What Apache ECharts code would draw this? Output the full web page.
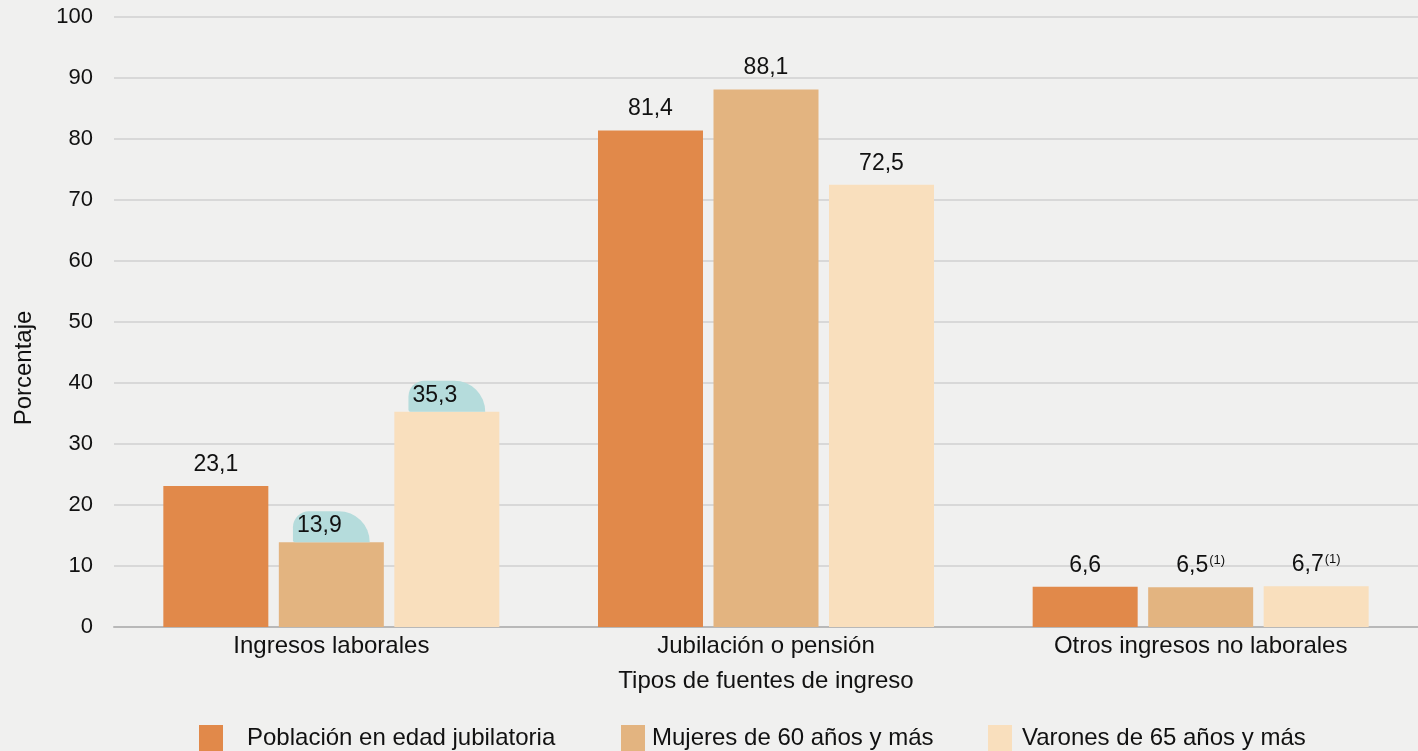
<!DOCTYPE html>
<html>
<head>
<meta charset="utf-8">
<script src="https://cdn.jsdelivr.net/npm/echarts@6/dist/echarts.min.js"></script>
<style>
  html, body { margin: 0; padding: 0; background: #f0f0ef; }
  #chart { width: 1418px; height: 751px; }
</style>
</head>
<body>
<div id="chart"></div>
<script>
// datos
var categorias = ['Ingresos laborales', 'Jubilación o pensión', 'Otros ingresos no laborales'];
var series = ['Población en edad jubilatoria', 'Mujeres de 60 años y más', 'Varones de 65 años y más'];
var poblacion = [23.1, 81.4, 6.6];
var mujeres = [13.9, 88.1, 6.5];
var varones = [35.3, 72.5, 6.7];
// notas (1) por serie y categoría
var notasMujeres = [false, false, true];
var notasVarones = [false, false, true];
// etiquetas con trazo turquesa detrás
var resaltMujeres = [true, false, false];
var resaltVarones = [true, false, false];

var colores = ['#e1894a', '#e3b480', '#f9dfbd'];
var fuente = 'Liberation Sans, Arial, sans-serif';

(function () {
  var myChart = echarts.init(document.getElementById('chart'));

  function fmt(v) {
    return String(v).replace('.', ',');
  }

  function datos(valores, notas, resalt) {
    return valores.map(function (v, i) {
      var item = { value: v };
      if (notas && notas[i]) {
        item.label = { formatter: function (p) { return '{n|' + fmt(p.value) + '}{s|(1)}'; } };
      } else if (resalt && resalt[i]) {
        item.label = { distance: 0, formatter: function (p) { return '{h|' + fmt(p.value) + '}'; } };
      }
      return item;
    });
  }

  var labelBase = {
    show: true,
    position: 'top',
    distance: 10,
    color: '#111',
    fontSize: 23,
    fontFamily: fuente,
    formatter: function (p) { return fmt(p.value); },
    rich: {
      n: { fontSize: 23, color: '#111', fontFamily: fuente },
      s: { fontSize: 13, color: '#111', verticalAlign: 'top', padding: [0, 0, 10, 1], fontFamily: fuente },
      h: {
        fontSize: 23, color: '#111', fontFamily: fuente,
        backgroundColor: '#b5dcdc', borderRadius: [16, 34, 0, 2], padding: [3, 28, 5, 4]
      }
    }
  };

  var legendText = { color: '#111', fontSize: 24, fontFamily: fuente };

  var option = {
    backgroundColor: '#f0f0ef',
    color: colores,
    textStyle: { fontFamily: fuente },
    legend: [
      { data: [series[0]], left: 199, top: 725, padding: 0, itemWidth: 24, itemHeight: 26, icon: 'rect', itemGap: 0, textStyle: Object.assign({ padding: [0, 0, 0, 19] }, legendText) },
      { data: [series[1]], left: 621, top: 725, padding: 0, itemWidth: 24, itemHeight: 26, icon: 'rect', itemGap: 0, textStyle: Object.assign({ padding: [0, 0, 0, 2] }, legendText) },
      { data: [series[2]], left: 988, top: 725, padding: 0, itemWidth: 24, itemHeight: 26, icon: 'rect', itemGap: 0, textStyle: Object.assign({ padding: [0, 0, 0, 5] }, legendText) }
    ],
    grid: {
      left: 114,
      right: 0,
      top: 17,
      bottom: 124,
      containLabel: false
    },
    xAxis: {
      type: 'category',
      data: categorias,
      name: 'Tipos de fuentes de ingreso',
      nameLocation: 'middle',
      nameGap: 42,
      nameTextStyle: { color: '#111', fontSize: 24 },
      axisTick: { show: false },
      axisLine: { show: true, lineStyle: { color: '#b8b8b8', width: 2 } },
      axisLabel: { color: '#111', fontSize: 24, margin: 7 }
    },
    yAxis: {
      type: 'value',
      min: 0,
      max: 100,
      interval: 10,
      name: 'Porcentaje',
      nameLocation: 'middle',
      nameGap: 78,
      nameRotate: 90,
      nameTextStyle: { color: '#111', fontSize: 24, padding: [0, 92, 0, 0] },
      axisLine: { show: false },
      axisTick: { show: false },
      axisLabel: { color: '#111', fontSize: 22, margin: 21 },
      splitLine: { lineStyle: { color: '#d8d8d8', width: 2 } }
    },
    series: [
      {
        name: series[0],
        type: 'bar',
        barWidth: 105,
        barGap: '10%',
        data: datos(poblacion),
        label: labelBase
      },
      {
        name: series[1],
        type: 'bar',
        barWidth: 105,
        barGap: '10%',
        data: datos(mujeres, notasMujeres, resaltMujeres),
        label: labelBase
      },
      {
        name: series[2],
        type: 'bar',
        barWidth: 105,
        barGap: '10%',
        data: datos(varones, notasVarones, resaltVarones),
        label: labelBase
      }
    ]
  };

  myChart.setOption(option);
  window.addEventListener('resize', () => myChart.resize());
})();
</script>
</body>
</html>
